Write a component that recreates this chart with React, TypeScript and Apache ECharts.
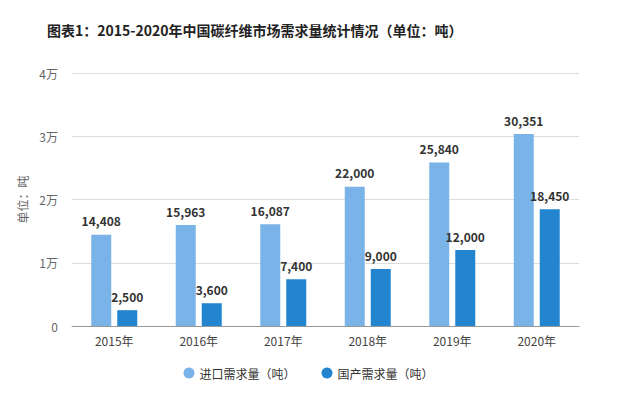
import React, { useEffect, useRef } from "react";
import * as echarts from "echarts";

const categories = ["2015年", "2016年", "2017年", "2018年", "2019年", "2020年"];
const importDemand = [14408, 15963, 16087, 22000, 25840, 30351];
const domesticDemand = [2500, 3600, 7400, 9000, 12000, 18450];
const seriesNames = ["进口需求量（吨）", "国产需求量（吨）"];
const titleText = "图表1：2015-2020年中国碳纤维市场需求量统计情况（单位：吨）";
const yAxisName = "单位：吨";

const FONT = "'Noto Sans CJK SC', 'Noto Sans', sans-serif";

export default function App() {
  const ref = useRef<HTMLDivElement>(null);
  useEffect(() => {
    if (!ref.current) return;
    const chart = echarts.init(ref.current, undefined, { renderer: "svg" });
    const label = {
      show: true,
      position: "top" as const,
      distance: 8,
      fontSize: 12,
      fontWeight: "bold" as const,
      color: "#333",
      fontFamily: FONT,
      formatter: (p: any) => Number(p.value).toLocaleString("en-US"),
    };
    chart.setOption({
      animation: false,
      backgroundColor: "#fff",
      title: {
        text: titleText,
        left: 42,
        top: 18,
        textStyle: { fontSize: 14, fontWeight: "bold", color: "#222", fontFamily: FONT },
      },
      legend: {
        bottom: 12,
        left: "center",
        icon: "circle",
        itemWidth: 11,
        itemHeight: 11,
        itemGap: 26,
        textStyle: { fontSize: 12, color: "#333", fontFamily: FONT },
        data: seriesNames,
      },
      grid: { left: 72, right: 38, top: 73, bottom: 70 },
      xAxis: {
        type: "category",
        data: categories,
        axisLine: { lineStyle: { color: "#999" } },
        axisTick: { alignWithLabel: true, lineStyle: { color: "#999" } },
        axisLabel: { color: "#444", fontSize: 12, fontFamily: FONT, margin: 8 },
      },
      yAxis: {
        type: "value",
        min: 0,
        max: 40000,
        interval: 10000,
        name: yAxisName,
        nameLocation: "middle",
        nameGap: 44,
        nameRotate: 90,
        nameTextStyle: { color: "#666", fontSize: 12, fontFamily: FONT, padding: [0, 0, 0, 0] },
        axisLine: { show: false },
        axisTick: { show: false },
        splitLine: { lineStyle: { color: "#ddd" } },
        axisLabel: {
          color: "#666",
          fontSize: 12,
          fontFamily: FONT,
          margin: 14,
          formatter: (v: number) => (v === 0 ? "0" : v / 10000 + "万"),
        },
      },
      series: [
        {
          name: seriesNames[0],
          type: "bar",
          data: importDemand,
          barWidth: 20,
          barGap: "30%",
          itemStyle: { color: "#7AB3E8" },
          label,
        },
        {
          name: seriesNames[1],
          type: "bar",
          data: domesticDemand,
          barWidth: 20,
          itemStyle: { color: "#2384CF" },
          label,
        },
      ],
    });
    return () => chart.dispose();
  }, []);
  return <div ref={ref} style={{ width: 617, height: 396, margin: -8 }} />;
}
